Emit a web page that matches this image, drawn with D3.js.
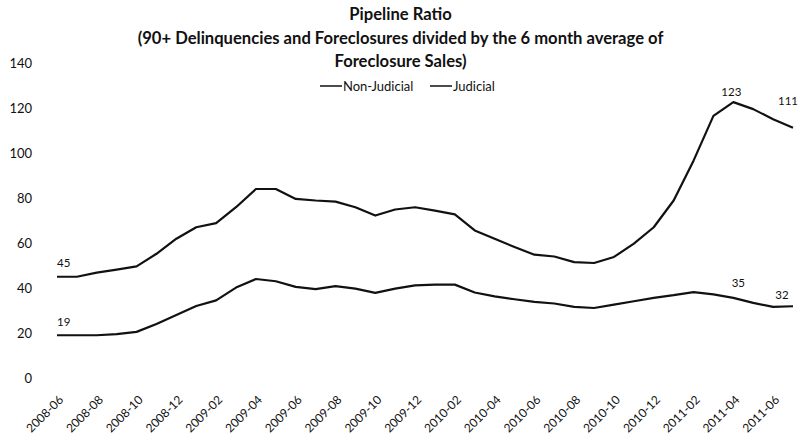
<!DOCTYPE html>
<html>
<head>
<meta charset="utf-8">
<script src="https://cdn.jsdelivr.net/npm/d3@7"></script>
<style>
  body { margin: 0; background: #fff; }
  text { font-family: Lato, "Open Sans", sans-serif; fill: #111; }
</style>
</head>
<body>
<svg width="799" height="441"></svg>
<script>
(function (d3) {
  "use strict";

  var months = [
    "2008-06", "2008-07", "2008-08", "2008-09", "2008-10", "2008-11", "2008-12",
    "2009-01", "2009-02", "2009-03", "2009-04", "2009-05", "2009-06", "2009-07",
    "2009-08", "2009-09", "2009-10", "2009-11", "2009-12", "2010-01", "2010-02",
    "2010-03", "2010-04", "2010-05", "2010-06", "2010-07", "2010-08", "2010-09",
    "2010-10", "2010-11", "2010-12", "2011-01", "2011-02", "2011-03", "2011-04",
    "2011-05", "2011-06", "2011-07"
  ];

  var nonJudicial = [
    45, 45, 46.8, 48.2, 49.6, 55.2, 61.9, 67, 68.8, 75.9, 84, 84, 79.6, 78.9,
    78.4, 75.9, 72.2, 74.9, 75.9, 74.4, 72.7, 65.6, 61.9, 58.2, 54.8, 54, 51.5,
    51.1, 53.8, 59.7, 67, 78.9, 96.6, 116.5, 122.6, 119.5, 115, 111.2
  ];

  var judicial = [
    19, 19, 19, 19.5, 20.5, 24, 28, 32, 34.5, 40.2, 44, 43, 40.5, 39.5,
    40.8, 39.7, 37.8, 39.7, 41.2, 41.5, 41.5, 38, 36.3, 35, 33.8, 33.1, 31.6,
    31.1, 32.6, 34.1, 35.6, 36.8, 38.2, 37.2, 35.6, 33.4, 31.6, 31.9
  ];

  var seriesNames = ["Non-Judicial", "Judicial"];
  var yTicks = [0, 20, 40, 60, 80, 100, 120, 140];

  // value labels: [series index, month index, text]
  var pointLabels = [
    [0, 0, "45"], [1, 0, "19"],
    [0, 34, "123"], [0, 37, "111"],
    [1, 34, "35"], [1, 37, "32"]
  ];

  var titleLines = [
    "Pipeline Ratio",
    "(90+ Delinquencies and Foreclosures divided by the 6 month average of",
    "Foreclosure Sales)"
  ];

  var svg = d3.select("svg");
  var width = +svg.attr("width");

  var x = d3.scalePoint().domain(months).range([57, 793]);
  var y = d3.scaleLinear().domain([0, 140]).range([378, 63]);

  // title
  svg.append("g")
    .selectAll("text")
    .data(titleLines)
    .join("text")
    .attr("x", width / 2 + 1)
    .attr("y", function (d, i) { return 20 + i * 23.5; })
    .attr("text-anchor", "middle")
    .style("font-weight", "bold")
    .style("font-size", "16.6px")
    .text(function (d) { return d; });

  // legend
  var legend = svg.append("g").attr("transform", "translate(320, 86)");
  var legendItems = legend.selectAll("g")
    .data(seriesNames)
    .join("g")
    .attr("transform", function (d, i) { return "translate(" + i * 110 + ",0)"; });
  legendItems.append("line")
    .attr("x1", 0).attr("x2", 22)
    .attr("y1", 0).attr("y2", 0)
    .attr("stroke", "#111")
    .attr("stroke-width", 1.5);
  legendItems.append("text")
    .attr("x", 23)
    .attr("y", 4.5)
    .style("font-size", "13px")
    .text(function (d) { return d; });

  // y axis (labels only)
  var yAxis = d3.axisLeft(y).tickValues(yTicks).tickSize(0).tickPadding(0);
  var yG = svg.append("g").attr("transform", "translate(32,0)").call(yAxis);
  yG.select(".domain").remove();
  yG.selectAll("text")
    .style("font-family", "Lato, 'Open Sans', sans-serif")
    .style("font-size", "13px")
    .attr("fill", "#111");

  // x axis (rotated labels every 2 months)
  var xAxis = d3.axisBottom(x)
    .tickValues(months.filter(function (d, i) { return i % 2 === 0; }))
    .tickSize(0)
    .tickPadding(0);
  var xG = svg.append("g").attr("transform", "translate(4,398)").call(xAxis);
  xG.select(".domain").remove();
  xG.selectAll("text")
    .style("font-family", "Lato, 'Open Sans', sans-serif")
    .style("font-size", "12px")
    .attr("fill", "#111")
    .attr("text-anchor", "end")
    .attr("dx", 0)
    .attr("dy", "0.3em")
    .attr("transform", "rotate(-45)");

  // lines
  var series = [nonJudicial, judicial];
  var line = d3.line()
    .x(function (d, i) { return x(months[i]); })
    .y(function (d) { return y(d); });

  svg.append("g")
    .selectAll("path")
    .data(series)
    .join("path")
    .attr("d", line)
    .attr("fill", "none")
    .attr("stroke", "#111")
    .attr("stroke-width", 2.2)
    .attr("stroke-linejoin", "round");

  // point labels; nudges keep them clear of the lines
  var nudge = {
    "45": [0, -10], "19": [0, -9],
    "123": [-2, -6], "111": [-5, -23],
    "35": [5, -11], "32": [-11, -7]
  };
  svg.append("g")
    .selectAll("text")
    .data(pointLabels)
    .join("text")
    .attr("x", function (d) { return x(months[d[1]]) + nudge[d[2]][0]; })
    .attr("y", function (d) { return y(series[d[0]][d[1]]) + nudge[d[2]][1]; })
    .attr("text-anchor", function (d) { return d[1] === 0 ? "start" : "middle"; })
    .style("font-size", "11.5px")
    .text(function (d) { return d[2]; });
})(d3);
</script>
</body>
</html>
